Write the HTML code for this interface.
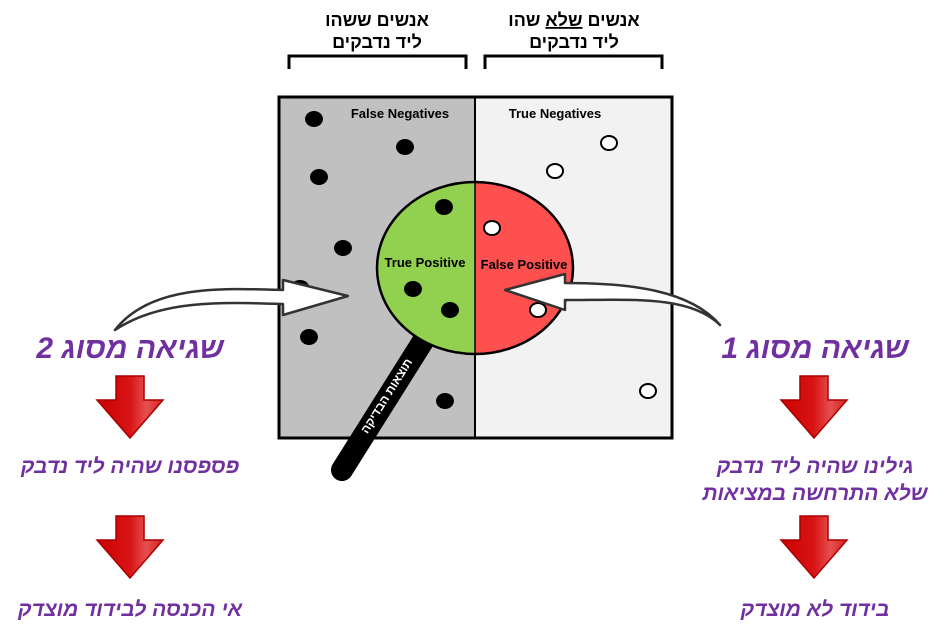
<!DOCTYPE html>
<html><head><meta charset="utf-8"><style>
html,body{margin:0;padding:0;background:#fff;width:944px;height:637px;overflow:hidden}
svg{display:block}
.h{font-family:"Liberation Sans","Noto Sans CJK SC",sans-serif;font-weight:bold}
.p{font-family:"Liberation Sans","Noto Sans CJK SC",sans-serif;font-weight:bold;font-style:italic;fill:#7030a0}
</style></head><body>
<svg width="944" height="637" viewBox="0 0 944 637">
<defs>
<linearGradient id="rg" x1="0" x2="1" y1="0" y2="0">
<stop offset="0" stop-color="#c00"/><stop offset="0.5" stop-color="#d81414"/><stop offset="0.75" stop-color="#e65050"/><stop offset="1" stop-color="#d42020"/>
</linearGradient>
<g id="da">
<path d="M-14,0 H14 V24 H33 L0,62 L-33,24 H-14 Z" fill="url(#rg)" stroke="#a00" stroke-width="1.5"/>
</g>
</defs>
<text class="h" x="377" y="26" font-size="18" text-anchor="middle" direction="rtl">אנשים ששהו</text>
<text class="h" x="377" y="48" font-size="18" text-anchor="middle" direction="rtl">ליד נדבקים</text>
<text class="h" x="574" y="26" font-size="18" text-anchor="middle" direction="rtl">אנשים <tspan text-decoration="underline">שלא</tspan> שהו</text>
<text class="h" x="574" y="48" font-size="18" text-anchor="middle" direction="rtl">ליד נדבקים</text>
<path d="M289,69 V56 H466 V69" fill="none" stroke="#000" stroke-width="3"/>
<path d="M485,69 V56 H662 V69" fill="none" stroke="#000" stroke-width="3"/>
<rect x="279" y="97" width="196" height="341" fill="#c0c0c0"/>
<rect x="475" y="97" width="197" height="341" fill="#f2f2f2"/>
<rect x="279" y="97" width="393" height="341" fill="none" stroke="#000" stroke-width="3"/>
<line x1="475" y1="97" x2="475" y2="438" stroke="#000" stroke-width="2"/>
<text class="h" x="400" y="118" font-size="13" text-anchor="middle">False Negatives</text>
<text class="h" x="555" y="118" font-size="13" text-anchor="middle">True Negatives</text>
<g fill="#000">
<ellipse cx="314" cy="119" rx="9" ry="8"/><ellipse cx="405" cy="147" rx="9" ry="8"/>
<ellipse cx="319" cy="177" rx="9" ry="8"/><ellipse cx="343" cy="248" rx="9" ry="8"/>
<ellipse cx="309" cy="337" rx="9" ry="8"/><ellipse cx="445" cy="401" rx="9" ry="8"/>
<ellipse cx="300" cy="287" rx="9" ry="7"/>
</g>
<g fill="#fff" stroke="#000" stroke-width="2">
<ellipse cx="609" cy="143" rx="8" ry="7"/><ellipse cx="555" cy="171" rx="8" ry="7"/>
<ellipse cx="648" cy="391" rx="8" ry="7"/>
</g>
<line x1="430" y1="330" x2="342" y2="470" stroke="#000" stroke-width="22" stroke-linecap="round"/>
<text x="0" y="0" transform="translate(390,398) rotate(-58)" font-size="12" fill="#fff" class="h" text-anchor="middle" direction="rtl">תוצאות הבדיקה</text>
<path d="M475,182 A98,86 0 0 0 475,354 Z" fill="#92d050"/>
<path d="M475,182 A98,86 0 0 1 475,354 Z" fill="#ff5050"/>
<ellipse cx="475" cy="268" rx="98" ry="86" fill="none" stroke="#000" stroke-width="2.5"/>
<line x1="475" y1="182" x2="475" y2="354" stroke="#000" stroke-width="1.5"/>
<ellipse cx="444" cy="207" rx="9" ry="8"/><ellipse cx="413" cy="289" rx="9" ry="8"/><ellipse cx="450" cy="310" rx="9" ry="8"/>
<g fill="#fff" stroke="#000" stroke-width="2"><ellipse cx="492" cy="228" rx="8" ry="7"/><ellipse cx="538" cy="310" rx="8" ry="7"/></g>
<text class="h" x="425" y="267" font-size="13" text-anchor="middle">True Positive</text>
<text class="h" x="524" y="269" font-size="13" text-anchor="middle">False Positive</text>
<path d="M115,330 C150,285 220,288 283,290 V280 L348,296 L283,315 V304 C220,302 160,300 115,330 Z" fill="#fff" stroke="#333" stroke-width="2.5" stroke-linejoin="round"/>
<path d="M720,325 C690,290 630,283 565,283 V274 L505,290 L565,310 V300 C630,300 690,295 720,325 Z" fill="#fff" stroke="#333" stroke-width="2.5" stroke-linejoin="round"/>
<text class="p" x="130" y="358" font-size="30" text-anchor="middle" direction="rtl">שגיאה מסוג 2</text>
<use href="#da" x="130" y="376"/>
<text class="p" x="130" y="473" font-size="21" text-anchor="middle" direction="rtl">פספסנו שהיה ליד נדבק</text>
<use href="#da" x="130" y="516"/>
<text class="p" x="130" y="616" font-size="21" text-anchor="middle" direction="rtl">אי הכנסה לבידוד מוצדק</text>
<text class="p" x="815" y="358" font-size="30" text-anchor="middle" direction="rtl">שגיאה מסוג 1</text>
<use href="#da" x="814" y="376"/>
<text class="p" x="815" y="473" font-size="21" text-anchor="middle" direction="rtl">גילינו שהיה ליד נדבק</text>
<text class="p" x="815" y="500" font-size="21" text-anchor="middle" direction="rtl">שלא התרחשה במציאות</text>
<use href="#da" x="814" y="516"/>
<text class="p" x="815" y="616" font-size="21" text-anchor="middle" direction="rtl">בידוד לא מוצדק</text>
</svg>
</body></html>
